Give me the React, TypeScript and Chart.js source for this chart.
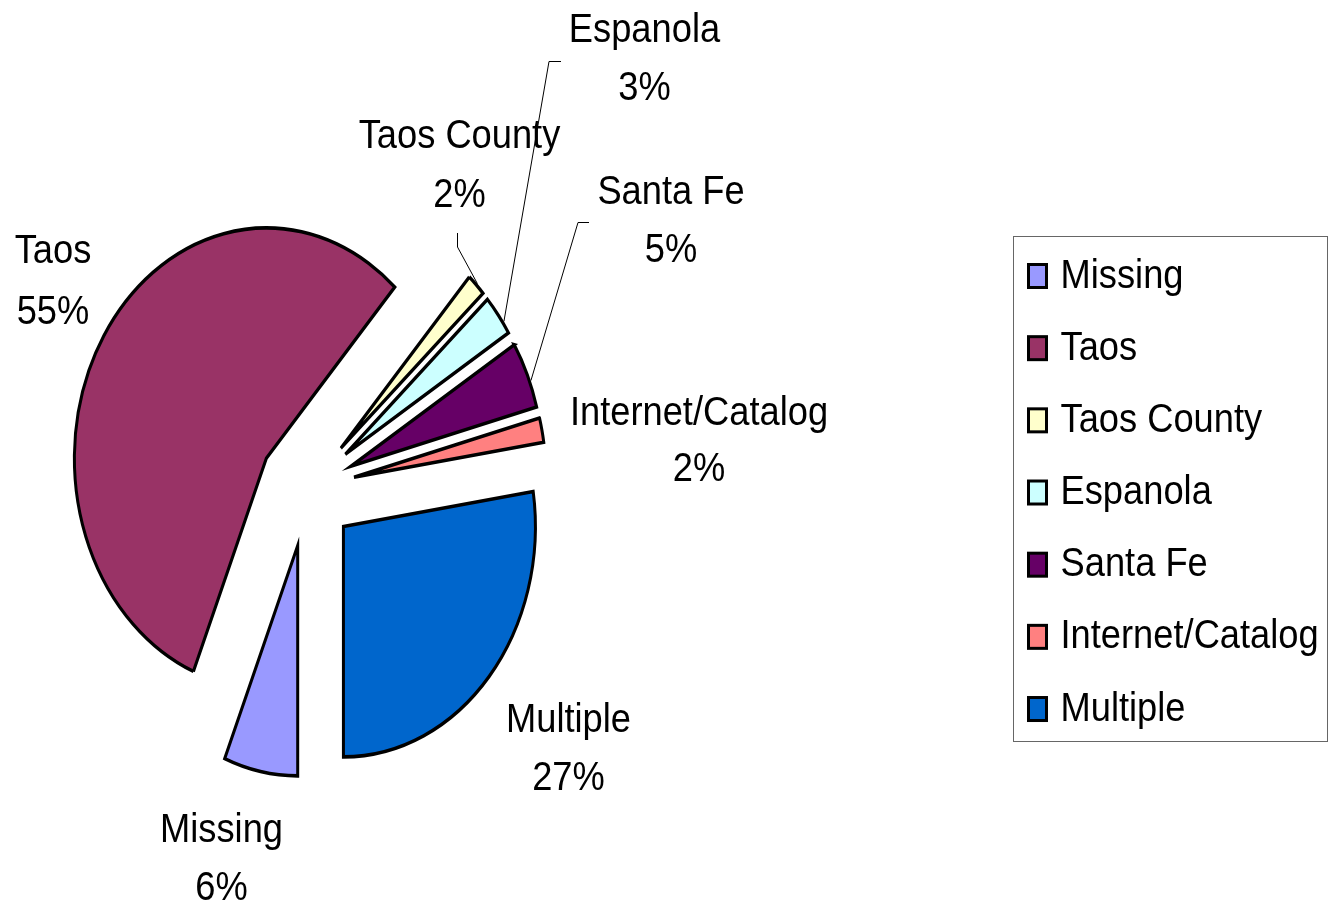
import React, { useEffect, useRef } from "react";
import { Chart, registerables } from "chart.js";

Chart.register(...registerables);

// ---- data ----
const categories = ["Missing", "Taos", "Taos County", "Espanola", "Santa Fe", "Internet/Catalog", "Multiple"];
const shares = [6.2, 55.4, 1.6, 2.9, 4.7, 1.7, 27.4];
const sliceColors = ["#9999FF", "#993366", "#FFFFCC", "#CCFFFF", "#660066", "#FF8080", "#0066CC"];

// ---- layout / style ----
const W = 1338;
const H = 906;
const PIE_CX = 307;
const PIE_CY = 489;
const PIE_R = 192;
const PIE_K = 1.2; // vertical stretch of the pie
const EXPLODE = 48;
const FONT_PX = 41;
const FONT_SX = 0.885;
const FONT = `${FONT_PX}px "Liberation Sans", Arial, sans-serif`;

// [centerX, baseline of name, baseline of percent]
const labelPos: number[][] = [
  [221.5, 842, 900],
  [53, 263, 324],
  [459.5, 148, 207],
  [644.5, 42, 100],
  [671, 204, 262],
  [699, 425, 481],
  [568.5, 732, 790],
];

const leaders = [
  { index: 2, pts: [[457.5, 233], [457.5, 247]], f: 0.5 },
  { index: 3, pts: [[561, 61.5], [549, 61.5]], f: 0.7 },
  { index: 4, pts: [[589, 222.5], [578, 222.5]], f: 0.6 },
];

const LEGEND_BOX = { x: 1013.5, y: 236.5, w: 314, h: 505 };
const LEGEND_ROW0 = 276;
const LEGEND_PITCH = 72.17;

function drawText(ctx: CanvasRenderingContext2D, s: string, x: number, y: number) {
  ctx.save();
  ctx.translate(x, y);
  ctx.scale(FONT_SX, 1);
  ctx.fillText(s, 0, 0);
  ctx.restore();
}

export default function App() {
  const ref = useRef<HTMLCanvasElement | null>(null);

  useEffect(() => {
    const canvas = ref.current;
    if (!canvas) return;
    const total = shares.reduce((a, b) => a + b, 0);

    // explode every slice by the same distance and stretch the pie vertically
    const pieCenter = (chart: any) => {
      const ca = chart.chartArea;
      return { cx: (ca.left + ca.right) / 2, cy: (ca.top + ca.bottom) / 2 };
    };

    const explodePlugin = {
      id: "explodePie",
      beforeDatasetsDraw(chart: any) {
        const ctx = chart.ctx;
        const { cx, cy } = pieCenter(chart);
        const meta = chart.getDatasetMeta(0);
        meta.data.forEach((el: any) => {
          const half = (el.startAngle + el.endAngle) / 2;
          el.x = cx + EXPLODE * Math.cos(half);
          el.y = cy + EXPLODE * Math.sin(half);
        });
        ctx.save();
        ctx.translate(cx, cy);
        ctx.scale(1, PIE_K);
        ctx.translate(-cx, -cy);
      },
      afterDatasetsDraw(chart: any) {
        chart.ctx.restore();
      },
    };

    const annotPlugin = {
      id: "annot",
      afterDraw(chart: any) {
        const ctx: CanvasRenderingContext2D = chart.ctx;
        const meta = chart.getDatasetMeta(0);
        const { cx, cy } = pieCenter(chart);
        ctx.save();
        // leader lines
        ctx.strokeStyle = "#000";
        ctx.lineWidth = 1;
        leaders.forEach((ld) => {
          const el = meta.data[ld.index];
          const a = el.startAngle + ld.f * (el.endAngle - el.startAngle);
          const r = el.outerRadius + 1.5;
          const tx = el.x + r * Math.cos(a);
          const ty = cy + PIE_K * (el.y - cy + r * Math.sin(a));
          ctx.beginPath();
          ctx.moveTo(ld.pts[0][0], ld.pts[0][1]);
          ctx.lineTo(ld.pts[1][0], ld.pts[1][1]);
          ctx.lineTo(tx, ty);
          ctx.stroke();
        });
        // data labels
        ctx.fillStyle = "#000";
        ctx.font = FONT;
        ctx.textAlign = "center";
        ctx.textBaseline = "alphabetic";
        categories.forEach((name, i) => {
          const [x, b1, b2] = labelPos[i];
          drawText(ctx, name, x, b1);
          drawText(ctx, Math.round((shares[i] / total) * 100) + "%", x, b2);
        });
        // legend
        ctx.strokeStyle = "#666";
        ctx.lineWidth = 1;
        ctx.strokeRect(LEGEND_BOX.x, LEGEND_BOX.y, LEGEND_BOX.w, LEGEND_BOX.h);
        ctx.textAlign = "left";
        categories.forEach((name, i) => {
          const ry = LEGEND_ROW0 + LEGEND_PITCH * i;
          ctx.fillStyle = sliceColors[i];
          ctx.fillRect(1028.5, ry - 11.5, 18, 23);
          ctx.strokeStyle = "#000";
          ctx.lineWidth = 3;
          ctx.strokeRect(1028.5, ry - 11.5, 18, 23);
          ctx.fillStyle = "#000";
          drawText(ctx, name, 1060.5, ry + 11.5);
        });
        ctx.restore();
        void cx;
      },
    };

    const chart = new Chart(canvas, {
      type: "pie",
      data: {
        labels: categories,
        datasets: [
          {
            data: shares,
            backgroundColor: sliceColors,
            borderColor: "#000",
            borderWidth: 3,
            borderJoinStyle: "miter",
            offset: 0,
            hoverOffset: 0,
          } as any,
        ],
      },
      options: {
        responsive: false,
        animation: false,
        events: [],
        rotation: 180,
        radius: PIE_R,
        layout: {
          padding: { left: 0, right: W - 2 * PIE_CX, top: 2 * PIE_CY - H, bottom: 0 },
        },
        plugins: {
          legend: { display: false },
          tooltip: { enabled: false },
        },
      } as any,
      plugins: [explodePlugin, annotPlugin],
    });
    return () => chart.destroy();
  }, []);

  return (
    <canvas
      ref={ref}
      width={W}
      height={H}
      style={{ position: "absolute", left: 0, top: 0, width: W, height: H, background: "#fff" }}
    />
  );
}
